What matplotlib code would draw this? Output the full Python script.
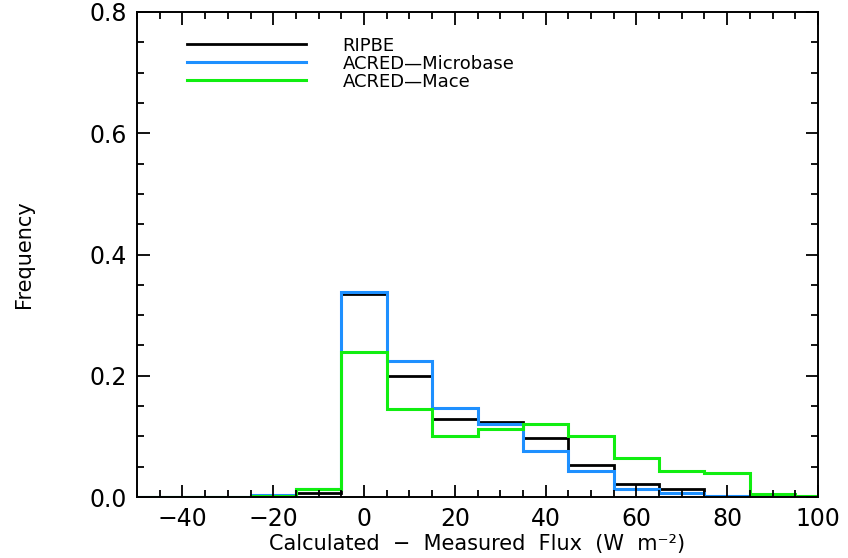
import numpy as np
import matplotlib.pyplot as plt
from matplotlib.ticker import MultipleLocator

plt.rcParams['font.family'] = ['DejaVu Sans']

# histogram bins, width 10, centred on multiples of 10
centers = np.arange(-50, 101, 10)
ripbe = [0, 0, 0, 0.002, 0.007, 0.335, 0.200, 0.128, 0.123, 0.098, 0.052, 0.021, 0.013, 0.002, 0.001, 0]
microbase = [0, 0, 0, 0.004, 0.013, 0.338, 0.224, 0.146, 0.120, 0.076, 0.043, 0.014, 0.006, 0.001, 0.0, 0]
mace = [0, 0, 0, 0.002, 0.013, 0.240, 0.145, 0.101, 0.112, 0.120, 0.100, 0.064, 0.043, 0.040, 0.005, 0.001]

edges = np.append(centers - 5, centers[-1] + 5)

fig = plt.figure(figsize=(8.48, 5.58), dpi=100)
ax = fig.add_axes([0.1616, 0.1093, 0.803, 0.8692])

ax.stairs(ripbe, edges, color='black', lw=2, label='RIPBE')
ax.stairs(microbase, edges, color='#1e90ff', lw=2.2, label='ACRED\u2014Microbase')
ax.stairs(mace, edges, color='#11ee11', lw=2.2, label='ACRED\u2014Mace')

ax.set_xlim(-50, 100)
ax.set_ylim(0, 0.8)
ax.xaxis.set_major_locator(MultipleLocator(20))
ax.xaxis.set_minor_locator(MultipleLocator(5))
ax.yaxis.set_major_locator(MultipleLocator(0.2))
ax.yaxis.set_minor_locator(MultipleLocator(0.05))
ax.yaxis.set_major_formatter(lambda v, p: f'{v:.1f}')
ax.xaxis.set_major_formatter(lambda v, p: f'{v:.0f}'.replace('-', '\u2212'))

ax.tick_params(which='both', direction='in', top=True, right=True, width=1.3, labelsize=17)
ax.tick_params(which='major', length=9, pad=7)
ax.tick_params(which='minor', length=5)
for s in ax.spines.values():
    s.set_linewidth(1.4)

ax.set_xlabel('Calculated  \u2212  Measured  Flux  (W  m\u207b\u00b2)', fontsize=15, labelpad=2)
ax.set_ylabel('Frequency', fontsize=15, labelpad=40)

ax.legend(loc='upper left', bbox_to_anchor=(0.055, 0.975), frameon=False, fontsize=13,
          handlelength=6.6, handletextpad=2.0, labelspacing=0.0, borderpad=0.2)

fig.savefig('out.png', dpi=100)
